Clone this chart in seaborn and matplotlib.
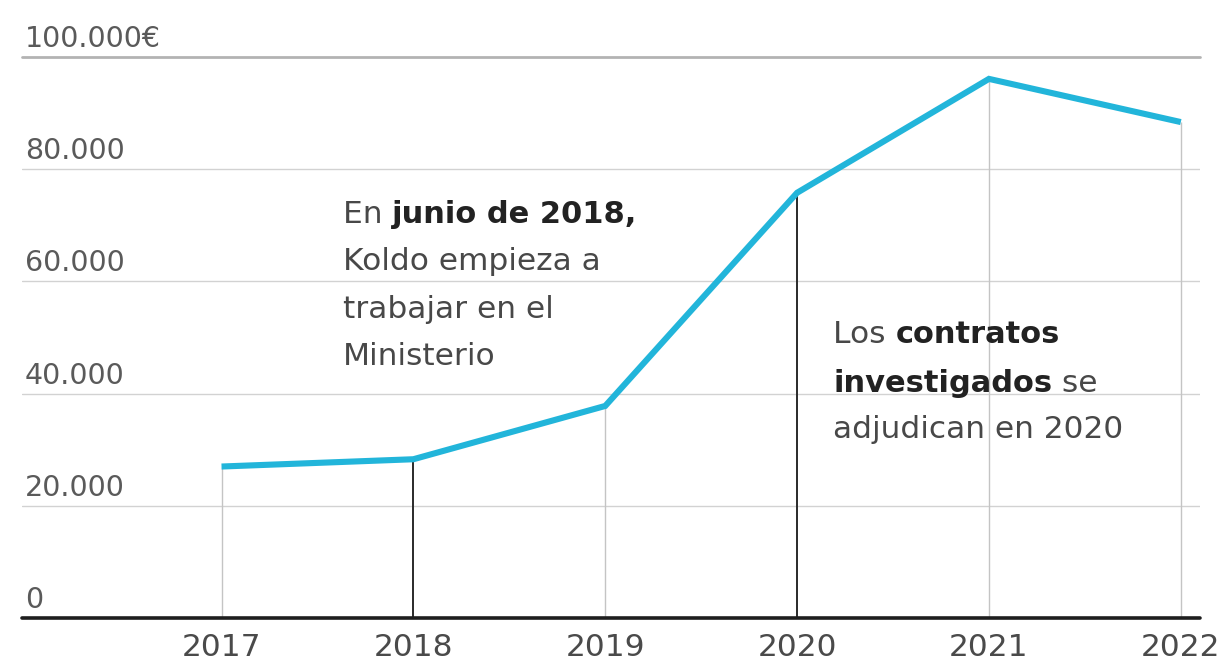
import matplotlib
matplotlib.use("Agg")
import matplotlib.pyplot as plt
import matplotlib.transforms as mtrans
import seaborn as sns
import pandas as pd

years = [2017, 2018, 2019, 2020, 2021, 2022]
values = [27000, 28300, 37800, 75800, 96100, 88400]
y_ticks = [0, 20000, 40000, 60000, 80000, 100000]
y_labels = ["0", "20.000", "40.000", "60.000", "80.000", "100.000€"]
highlight_years = [2018, 2020]

sns.set_theme(style="white")
plt.rcParams['font.family'] = ['DejaVu Sans']

df = pd.DataFrame({"year": years, "value": values})

fig = plt.figure(figsize=(12.27, 6.70), dpi=100)
fig.patch.set_facecolor("white")
ax = fig.add_axes([22/1227, 1-618/670, (1200-22)/1227, (618-57)/670])
ax.set_facecolor("white")

XMIN, XMAX = 2015.96, 2022.10
ax.set_xlim(XMIN, XMAX)
ax.set_ylim(0, 100000)

# gridlines
for t in y_ticks[1:-1]:
    ax.axhline(t, color="#d2d2d2", lw=1.0, zorder=1)
ax.axhline(y_ticks[-1], color="#b3b3b3", lw=2.0, zorder=1, clip_on=False)

# vertical drop lines
for yr, v in zip(years, values):
    if yr in highlight_years:
        ax.vlines(yr, 0, v, color="#2a2a2a", lw=1.4, zorder=2)
    else:
        ax.vlines(yr, 0, v, color="#c4c4c4", lw=1.0, zorder=2)

# baseline
ax.axhline(0, color="#1e1e1e", lw=2.6, zorder=4, clip_on=False)

sns.lineplot(data=df, x="year", y="value", ax=ax, color="#22b5da", lw=4.4,
             zorder=5, solid_capstyle="butt", solid_joinstyle="miter")

# y labels above gridlines
ylab_trans = mtrans.offset_copy(ax.get_yaxis_transform(), fig=fig, x=3, y=10, units="dots")
for t, lab in zip(y_ticks, y_labels):
    ax.text(0, t, lab, transform=ylab_trans, ha="left", va="baseline",
            fontsize=20.5, color="#5a5a5a")

ax.set_yticks([])
ax.set_xticks(years)
ax.set_xticklabels([str(y) for y in years], fontsize=22.5, color="#4a4a4a")
ax.tick_params(axis="x", length=0, pad=11)
ax.set_xlabel("")
ax.set_ylabel("")
for s in ax.spines.values():
    s.set_visible(False)

# annotations with mixed bold
def rich_line(x, y, parts, fontsize=22.5):
    prev = None
    for txt, bold in parts:
        kw = dict(fontsize=fontsize if not bold else fontsize - 0.5,
                  fontweight="bold" if bold else "normal",
                  color="#222222" if bold else "#484848")
        if prev is None:
            prev = ax.text(x, y, txt, transform=ax.transData, ha="left", va="center", **kw)
        else:
            prev = ax.annotate(txt, xy=(1, 0), xycoords=prev, ha="left", va="bottom", **kw)

def px_to_data_y(py):
    return (618 - py) / (618 - 57) * 100000

def px_to_data_x(px):
    return XMIN + (px - 22) / (1200 - 22) * (XMAX - XMIN)

ann1 = [
    [("En ", False), ("junio de 2018,", True)],
    [("Koldo empieza a", False)],
    [("trabajar en el", False)],
    [("Ministerio", False)],
]
ys1 = [215, 262, 310, 357]
for parts, py in zip(ann1, ys1):
    rich_line(px_to_data_x(343), px_to_data_y(py), parts)

ann2 = [
    [("Los ", False), ("contratos", True)],
    [("investigados", True), (" se", False)],
    [("adjudican en 2020", False)],
]
ys2 = [335, 383, 430]
for parts, py in zip(ann2, ys2):
    rich_line(px_to_data_x(833), px_to_data_y(py), parts)

fig.savefig("out.png", dpi=100, facecolor="white")
